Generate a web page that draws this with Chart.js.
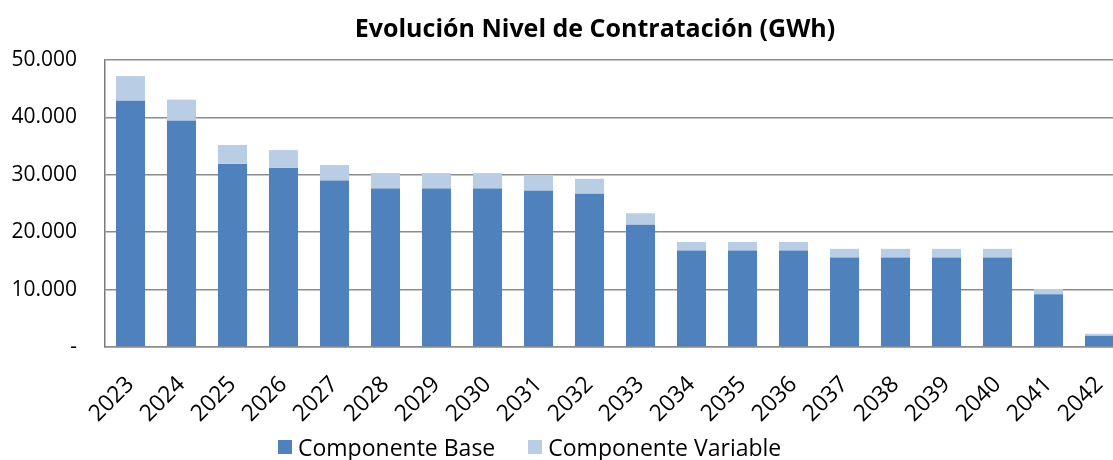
<!DOCTYPE html>
<html lang="es">
<head>
<meta charset="utf-8">
<title>Evolución Nivel de Contratación (GWh)</title>
<script src="https://cdn.jsdelivr.net/npm/chart.js@4.4.1/dist/chart.umd.min.js"></script>
<style>
  html, body { margin: 0; padding: 0; background: #fff; overflow: hidden; }
  #wrap { position: relative; width: 1190px; height: 460px; }
  #legend { position: absolute; left: 278px; top: 432px; font-family: "Open Sans", sans-serif; font-size: 23px; line-height: 27px; color: #000; white-space: nowrap; }
  #legend span.item { display: inline-flex; align-items: center; margin-right: 33px; }
  #legend span.box { display: inline-block; width: 14px; height: 14px; margin-right: 6px; }
</style>
</head>
<body>
<div id="wrap">
  <canvas id="barChart" width="1190" height="460"></canvas>
  <div id="legend"></div>
</div>
<script>
// datos (GWh)
const years = ["2023", "2024", "2025", "2026", "2027", "2028", "2029", "2030", "2031", "2032",
  "2033", "2034", "2035", "2036", "2037", "2038", "2039", "2040", "2041", "2042"];
const baseValues = [42900, 39400, 31900, 31200, 29000, 27600, 27600, 27600, 27200, 26700,
  21300, 16800, 16800, 16800, 15600, 15600, 15600, 15600, 9200, 1950];
const variableValues = [4300, 3700, 3300, 3100, 2700, 2700, 2700, 2700, 2800, 2600,
  2000, 1500, 1500, 1500, 1500, 1500, 1500, 1500, 900, 350];
const yTicks = [0, 10000, 20000, 30000, 40000, 50000];

const seriesNames = ["Componente Base", "Componente Variable"];
const seriesColors = ["#4F81BD", "#B9CDE5"];

function formatTick(v) {
  if (v === 0) return "-";
  return (v / 1000).toFixed(3);
}

const ctx = document.getElementById("barChart").getContext("2d");
new Chart(ctx, {
  type: "bar",
  data: {
    labels: years,
    datasets: [
      { label: seriesNames[0], data: baseValues, backgroundColor: seriesColors[0] },
      { label: seriesNames[1], data: variableValues, backgroundColor: seriesColors[1] },
    ],
  },
  options: {
    responsive: false,
    animation: false,
    devicePixelRatio: 1,
    layout: { padding: { left: 0, right: 0, top: 0, bottom: 20 } },
    datasets: { bar: { barPercentage: 0.57, categoryPercentage: 1 } },
    plugins: {
      legend: { display: false },
      tooltip: { enabled: false },
      title: {
        display: true,
        text: "Evolución Nivel de Contratación (GWh)",
        color: "#000",
        font: { family: "Open Sans", size: 25, weight: "bold" },
        padding: { top: 15, bottom: 15 },
      },
    },
    scales: {
      x: {
        stacked: true,
        grid: { display: false },
        border: { display: true, color: "#8c8c8c", width: 1.5 },
        ticks: {
          color: "#000",
          font: { family: "Open Sans", size: 23 },
          maxRotation: 45,
          minRotation: 45,
          padding: 16,
          labelOffset: 0,
        },
        afterFit: (scale) => { scale.height = 93; },
      },
      y: {
        stacked: true,
        min: 0,
        max: 50000,
        afterBuildTicks: (scale) => { scale.ticks = yTicks.map((v) => ({ value: v })); },
        grid: { color: "#8c8c8c", lineWidth: 1.5, drawTicks: false },
        border: { display: true, color: "#7a7a7a", width: 1.5 },
        ticks: {
          color: "#000",
          font: { family: "Open Sans", size: 21 },
          padding: 28,
          callback: (v) => formatTick(v),
        },
        afterFit: (scale) => { scale.width = 105; },
      },
      // eje vacío para reservar el margen derecho
      yRight: {
        position: "right",
        display: true,
        grid: { display: false, drawOnChartArea: false },
        border: { display: false },
        ticks: { display: false },
        afterFit: (scale) => { scale.width = 65; },
      },
    },
  },
});

// leyenda
const legend = document.getElementById("legend");
seriesNames.forEach((name, i) => {
  const item = document.createElement("span");
  item.className = "item";
  const box = document.createElement("span");
  box.className = "box";
  box.style.background = seriesColors[i];
  item.appendChild(box);
  item.appendChild(document.createTextNode(name));
  legend.appendChild(item);
});
</script>
</body>
</html>
